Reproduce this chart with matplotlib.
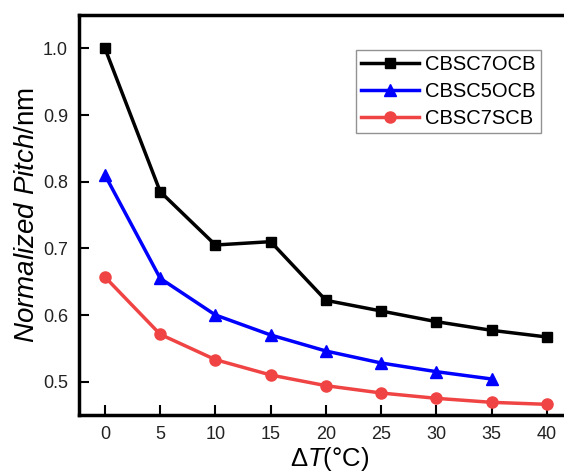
import matplotlib.pyplot as plt

plt.rcParams['font.family'] = ['Liberation Sans', 'DejaVu Sans']
plt.rcParams['mathtext.fontset'] = 'custom'
plt.rcParams['mathtext.rm'] = 'Liberation Sans'
plt.rcParams['mathtext.it'] = 'Liberation Sans:italic'

dT = [0, 5, 10, 15, 20, 25, 30, 35, 40]
cbsc7ocb = [1.000, 0.785, 0.705, 0.710, 0.622, 0.606, 0.590, 0.577, 0.567]
dT_5ocb = [0, 5, 10, 15, 20, 25, 30, 35]
cbsc5ocb = [0.810, 0.655, 0.600, 0.570, 0.546, 0.528, 0.515, 0.504]
cbsc7scb = [0.657, 0.571, 0.533, 0.510, 0.494, 0.483, 0.475, 0.469, 0.466]

fig = plt.figure(figsize=(5.64, 4.73), dpi=100)
ax = fig.add_axes([79 / 564, (473 - 415) / 473, (580 - 79) / 564, (415 - 15) / 473])

ax.plot(dT, cbsc7ocb, color='black', marker='s', markersize=7, lw=2.5, label='CBSC7OCB')
ax.plot(dT_5ocb, cbsc5ocb, color='#0000ff', marker='^', markersize=8, lw=2.5, label='CBSC5OCB')
ax.plot(dT, cbsc7scb, color='#f04444', marker='o', markersize=8, lw=2.5, label='CBSC7SCB')

ax.set_xlim(-2.35, 43.0)
ax.set_ylim(0.45, 1.05)
ax.set_xticks(dT)
ax.set_yticks([0.5, 0.6, 0.7, 0.8, 0.9, 1.0])
ax.set_yticklabels(['0.5', '0.6', '0.7', '0.8', '0.9', '1.0'])
ax.tick_params(direction='in', length=7, width=1.5, labelsize=13, labelcolor='#222222')
ax.tick_params(axis='x', pad=8)
ax.tick_params(axis='y', pad=8)
for s in ax.spines.values():
    s.set_linewidth(2.5)
ax.spines['right'].set_visible(False)

ax.set_xlabel(r'$\Delta\it{T}$(°C)', fontsize=18.5, labelpad=1)
ax.set_ylabel(r'$\it{Normalized\ Pitch}$/nm', fontsize=20, labelpad=2)

leg = ax.legend(loc='upper right', bbox_to_anchor=(0.922, 0.9125),
                fontsize=14.5, frameon=True, fancybox=False, edgecolor='#777777',
                handlelength=2.9, borderpad=0.25, labelspacing=0.4, handletextpad=0.3,
                borderaxespad=0)
leg.get_frame().set_linewidth(1)

fig.savefig('out.png', dpi=100)
